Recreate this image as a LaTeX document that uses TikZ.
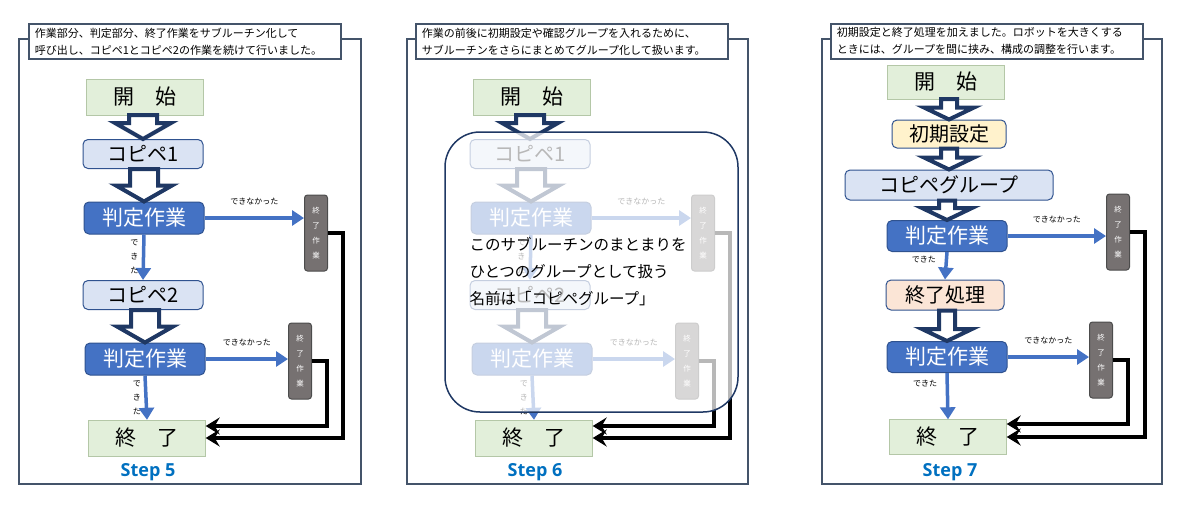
\documentclass[tikz,border=0pt]{standalone}
\usepackage{fontspec}
\setmainfont{Noto Sans CJK JP}
\newfontfamily\stepfont{Open Sans}
\usetikzlibrary{arrows.meta, calc, positioning}

\definecolor{navy}{HTML}{1F3864}
\definecolor{framegray}{HTML}{44546A}
\definecolor{startgreen}{HTML}{E2EFDA}
\definecolor{startedge}{HTML}{B4C7A7}
\definecolor{paleblue}{HTML}{DAE3F3}
\definecolor{midblue}{HTML}{4472C4}
\definecolor{edgeblue}{HTML}{2F528F}
\definecolor{endgray}{HTML}{767171}
\definecolor{paleyellow}{HTML}{FFF2CC}
\definecolor{palepeach}{HTML}{FBE5D6}
\definecolor{stepblue}{HTML}{0070C0}

% hollow block arrow between two stacked boxes
\def\shafthw{14}\def\headhw{28}\def\headlen{16}
\newcommand{\hollowarrow}[2]{%
  \draw[hollow] ($(#1.south -| #2.north)+(-\shafthw,0)$) -- ($(#2.north)+(-\shafthw,-\headlen)$)
    -- ($(#2.north)+(-\headhw,-\headlen)$) -- (#2.north) -- ($(#2.north)+(\headhw,-\headlen)$)
    -- ($(#2.north)+(\shafthw,-\headlen)$) -- ($(#1.south -| #2.north)+(\shafthw,0)$) -- cycle;}

\begin{document}
\begin{tikzpicture}[
        x=1pt, y=-1pt,
        frame/.style={draw=framegray, line width=1.6pt},
        caption/.style={draw=framegray, line width=1.6pt, fill=white, anchor=north west, align=left,
          text width=300pt, inner xsep=6pt, inner ysep=2pt, minimum height=35pt, font=\fontsize{11}{17}\selectfont},
        terminal/.style={draw=startedge, fill=startgreen, minimum width=117pt, minimum height=36pt, font=\fontsize{21}{21}\selectfont},
        process/.style={draw=edgeblue, fill=paleblue, line width=1pt, rounded corners=5pt, minimum width=120pt, minimum height=29pt, font=\fontsize{20}{20}\selectfont},
        decision/.style={process, fill=midblue, text=white, minimum height=32pt, font=\fontsize{21}{21}\selectfont},
        quit/.style={draw=black!70, fill=endgray, line width=1pt, rounded corners=3pt, minimum width=23pt, minimum height=76pt,
          inner sep=0pt, text=white, align=center, font=\fontsize{7.5}{15}\selectfont},
        flow/.style={draw=midblue, line width=3.5pt, -{Triangle[length=12pt, width=15pt]}},
        back/.style={draw=black, line width=4.5pt, -{Stealth[length=14pt, width=17pt, inset=5pt]}},
        hollow/.style={draw=navy, fill=white, line width=4pt, line join=miter},
        tiny/.style={font=\fontsize{8}{14}\selectfont},
        steplabel/.style={text=stepblue, anchor=base, font=\fontsize{18}{18}\stepfont\bfseries}
    ]
    \useasboundingbox (0,0) rectangle (1184,509);

    % --- Frames & captions ---
    \draw[frame] (19,39) rectangle (361,484);
    \draw[frame] (407,39) rectangle (748,484);
    \draw[frame] (822,39) rectangle (1162,484);
    \node[caption] (cap5) at (28,23) {作業部分、判定部分、終了作業をサブルーチン化して\\呼び出し、コピペ1とコピペ2の作業を続けて行いました。};
    \node[caption] (cap6) at (415,23) {作業の前後に初期設定や確認グループを入れるために、\\サブルーチンをさらにまとめてグループ化して扱います。};
    \node[caption] (cap7) at (830,23) {初期設定と終了処理を加えました。ロボットを大きくする\\ときには、グループを間に挟み、構成の調整を行います。};

    % --- Step 5 and Step 6: same flow ---
    \foreach \p/\dx/\n in {a/0/5, b/387/6}{
    \begin{scope}[xshift=\dx]
    \node[terminal] (\p-start) at (145,97) {開　始};
    \node[process] (\p-cp1) at (143,154) {コピペ1};
    \node[decision] (\p-judge1) at (144,218) {判定作業};
    \node[quit] (\p-quit1) at (316,233) {終\\了\\作\\業};
    \node[process] (\p-cp2) at (143,295) {コピペ2};
    \node[decision] (\p-judge2) at (145,359) {判定作業};
    \node[quit] (\p-quit2) at (300,361) {終\\了\\作\\業};
    \node[terminal] (\p-end) at (147,438) {終　了};
    \node[steplabel] (\p-step) at (148,476) {Step \n};

    \hollowarrow{\p-start}{\p-cp1}
    \hollowarrow{\p-cp1}{\p-judge1}
    \hollowarrow{\p-cp2}{\p-judge2}
    \draw[flow] (\p-judge1.east) -- (\p-judge1.east -| \p-quit1.west) node[midway, above=8pt, tiny] {できなかった};
    \draw[flow] (\p-judge1.south) -- (\p-cp2.north) node[midway, left=0pt, tiny, align=center] {で\\き\\た};
    \draw[flow] (\p-judge2.east) -- (\p-judge2.east -| \p-quit2.west) node[midway, above=8pt, tiny] {できなかった};
    \draw[flow] (\p-judge2.south) -- (\p-end.north) node[midway, left=0pt, tiny, align=center] {で\\き\\た};
    \draw[back] (\p-quit1.east) -- ++(15,0) |- (\p-end.east);
    \draw[back] (\p-quit2.east) -- ++(15,0) |- ($(\p-end.east)+(0,-12)$);
    \end{scope}}

    % --- Step 6: the group box over the subroutines ---
    \draw[navy, line width=1.5pt, fill=white, fill opacity=0.72, rounded corners=35pt] (445,132) rectangle (738,412);
    \node[anchor=west, align=left, font=\fontsize{15.5}{27}\selectfont] (groupnote) at (466,272)
      {このサブルーチンのまとまりを\\ひとつのグループとして扱う\\名前は「コピペグループ」};

    % --- Step 7 ---
    \node[terminal, minimum height=34pt] (c-start) at (946,82) {開　始};
    \node[process, fill=paleyellow, minimum width=114pt, minimum height=28pt] (c-init) at (949,134) {初期設定};
    \node[process, minimum width=208pt, minimum height=30pt] (c-group) at (949,185) {コピペグループ};
    \node[decision, minimum height=31pt] (c-judge1) at (947,236) {判定作業};
    \node[quit] (c-quit1) at (1118,232) {終\\了\\作\\業};
    \node[process, fill=palepeach, minimum width=118pt, minimum height=30pt] (c-fin) at (945,295) {終了処理};
    \node[decision, minimum height=31pt] (c-judge2) at (947,357) {判定作業};
    \node[quit] (c-quit2) at (1101,360) {終\\了\\作\\業};
    \node[terminal, minimum height=35pt] (c-end) at (948,437) {終　了};
    \node[steplabel] (c-step) at (950,476) {Step 7};

    \def\shafthw{8}\def\headhw{25}\def\headlen{12}
    \hollowarrow{c-start}{c-init}
    \hollowarrow{c-init}{c-group}
    \hollowarrow{c-group}{c-judge1}
    \hollowarrow{c-fin}{c-judge2}
    \draw[flow] (c-judge1.east) -- (c-judge1.east -| c-quit1.west) node[midway, above=8pt, tiny] {できなかった};
    \draw[flow] (c-judge1.south) -- (c-fin.north) node[midway, left=5pt, yshift=6pt, tiny] {できた};
    \draw[flow] (c-judge2.east) -- (c-judge2.east -| c-quit2.west) node[midway, above=8pt, tiny] {できなかった};
    \draw[flow] (c-judge2.south) -- (c-end.north) node[pos=0.22, left=5pt, tiny] {できた};
    \draw[back] (c-quit1.east) -- ++(15,0) |- (c-end.east);
    \draw[back] (c-quit2.east) -- ++(15,0) |- ($(c-end.east)+(0,-13)$);
\end{tikzpicture}
\end{document}
